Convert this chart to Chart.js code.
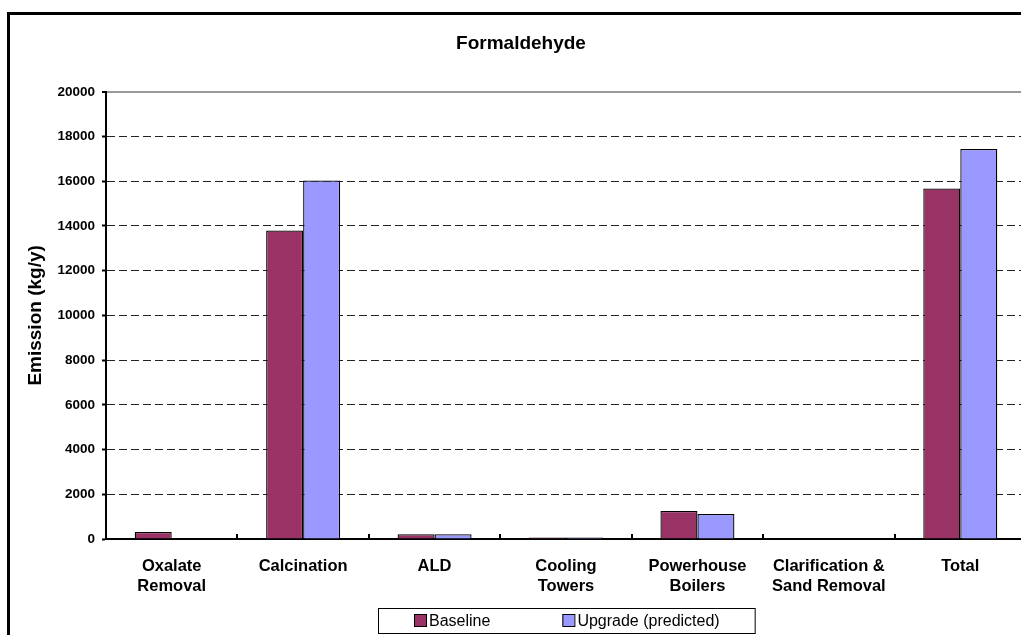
<!DOCTYPE html>
<html>
<head>
<meta charset="utf-8">
<title>Formaldehyde</title>
<script src="https://cdn.jsdelivr.net/npm/chart.js@4.4.1/dist/chart.umd.min.js"></script>
<style>
  html, body { margin: 0; padding: 0; overflow: hidden; background: #fff; }
  canvas { display: block; }
</style>
</head>
<body>
<canvas id="myChart" width="1045" height="650"></canvas>
<script>
// data (kg/y)
var categories = [['Oxalate', 'Removal'], 'Calcination', 'ALD', ['Cooling', 'Towers'], ['Powerhouse', 'Boilers'], ['Clarification &', 'Sand Removal'], 'Total'];
var baseline = [310, 13800, 210, 70, 1250, 0, 15680];
var upgrade = [0, 16030, 210, 70, 1120, 0, 17440];
var seriesNames = ['Baseline', 'Upgrade (predicted)'];
var seriesColors = ['#993366', '#9999FF'];
var yMin = 0;
var yMax = 20000;
var yStep = 2000;

var ff = "'Liberation Sans', Arial, sans-serif";

// outer frame of the chart (runs off the right/bottom of the window like the original)
var framePlugin = {
  id: 'frame',
  beforeDraw: function (chart) {
    var ctx = chart.ctx;
    ctx.save();
    ctx.fillStyle = '#fff';
    ctx.fillRect(0, 0, chart.width, chart.height);
    ctx.lineWidth = 3;
    ctx.strokeStyle = '#000';
    ctx.strokeRect(8.5, 13.5, 2000, 2000);
    ctx.restore();
  }
};

// small tick marks between categories, pointing up into the plot
var catTicks = {
  id: 'catTicks',
  afterDraw: function (chart) {
    var ctx = chart.ctx;
    var xs = chart.scales.x;
    var bottom = chart.chartArea.bottom;
    ctx.save();
    ctx.strokeStyle = '#000';
    ctx.lineWidth = 2;
    for (var i = 0; i < categories.length - 1; i++) {
      var x = Math.round((xs.getPixelForValue(i) + xs.getPixelForValue(i + 1)) / 2);
      ctx.beginPath();
      ctx.moveTo(x, bottom);
      ctx.lineTo(x, bottom - 5);
      ctx.stroke();
    }
    ctx.restore();
  }
};

// boxed legend under the axis labels
var legendBox = {
  id: 'legendBox',
  afterDraw: function (chart) {
    var ctx = chart.ctx;
    var area = chart.chartArea;
    var sets = chart.data.datasets;
    ctx.save();
    ctx.font = '16px ' + ff;
    var widths = sets.map(function (d) { return ctx.measureText(d.label).width; });
    var total = 36 + 35;
    widths.forEach(function (w, i) { total += 15 + w + (i > 0 ? 72 : 0); });
    var left = Math.round((area.left + area.right) / 2 - total / 2);
    var top = 608;
    ctx.lineWidth = 1;
    ctx.strokeStyle = '#000';
    ctx.strokeRect(left + 0.5, top + 0.5, total, 25);

    var x = left + 36;
    ctx.textBaseline = 'middle';
    ctx.textAlign = 'left';
    sets.forEach(function (d, i) {
      ctx.fillStyle = d.backgroundColor;
      ctx.fillRect(x, top + 6, 12, 12);
      ctx.strokeRect(x + 0.5, top + 6.5, 12, 12);
      ctx.fillStyle = '#000';
      ctx.fillText(d.label, x + 15, top + 13.5);
      x += 15 + widths[i] + 72;
    });
    ctx.restore();
  }
};

var ctx = document.getElementById('myChart').getContext('2d');

var myChart = new Chart(ctx, {
  type: 'bar',
  data: {
    labels: categories,
    datasets: [
      {
        label: seriesNames[0],
        data: baseline,
        backgroundColor: seriesColors[0],
        borderColor: '#000',
        borderWidth: 1.3
      },
      {
        label: seriesNames[1],
        data: upgrade,
        backgroundColor: seriesColors[1],
        borderColor: '#000',
        borderWidth: 1.3
      }
    ]
  },
  options: {
    responsive: false,
    animation: false,
    datasets: {
      bar: { categoryPercentage: 0.563, barPercentage: 1 }
    },
    layout: { padding: { left: 16, right: 19, top: 0, bottom: 41 } },
    plugins: {
      legend: { display: false },
      tooltip: { enabled: false },
      title: {
        display: true,
        text: 'Formaldehyde',
        color: '#000',
        font: { size: 19, weight: 'bold', family: ff },
        padding: { top: 32, bottom: 37 }
      }
    },
    scales: {
      x: {
        grid: { display: false, drawTicks: false },
        border: { display: true, color: '#000', width: 2 },
        ticks: {
          color: '#000',
          font: { size: 16.5, weight: 'bold', family: ff, lineHeight: 1.25 },
          padding: 17,
          maxRotation: 0,
          autoSkip: false
        },
        afterFit: function (scale) { scale.height = 70; }
      },
      y: {
        min: yMin,
        max: yMax,
        ticks: {
          stepSize: yStep,
          color: '#000',
          font: { size: 13.5, weight: 'bold', family: ff },
          padding: 7,
          callback: function (value) { return String(value); }
        },
        grid: {
          color: function (c) { return c.tick && c.tick.value === yMax ? '#999' : '#222'; },
          lineWidth: function (c) { return c.tick && c.tick.value === yMax ? 2 : 1; },
          tickLength: 4,
          tickColor: '#000',
          tickWidth: 2
        },
        border: {
          display: true,
          color: '#000',
          width: 2,
          dash: function (c) { return c.tick && c.tick.value === yMax ? [] : [8, 4]; }
        },
        title: {
          display: true,
          text: 'Emission (kg/y)',
          color: '#000',
          font: { size: 19, weight: 'bold', family: ff },
          padding: { top: 8, bottom: 0 }
        },
        afterFit: function (scale) { scale.width = 90; }
      }
    }
  },
  plugins: [framePlugin, catTicks, legendBox]
});
</script>
</body>
</html>
